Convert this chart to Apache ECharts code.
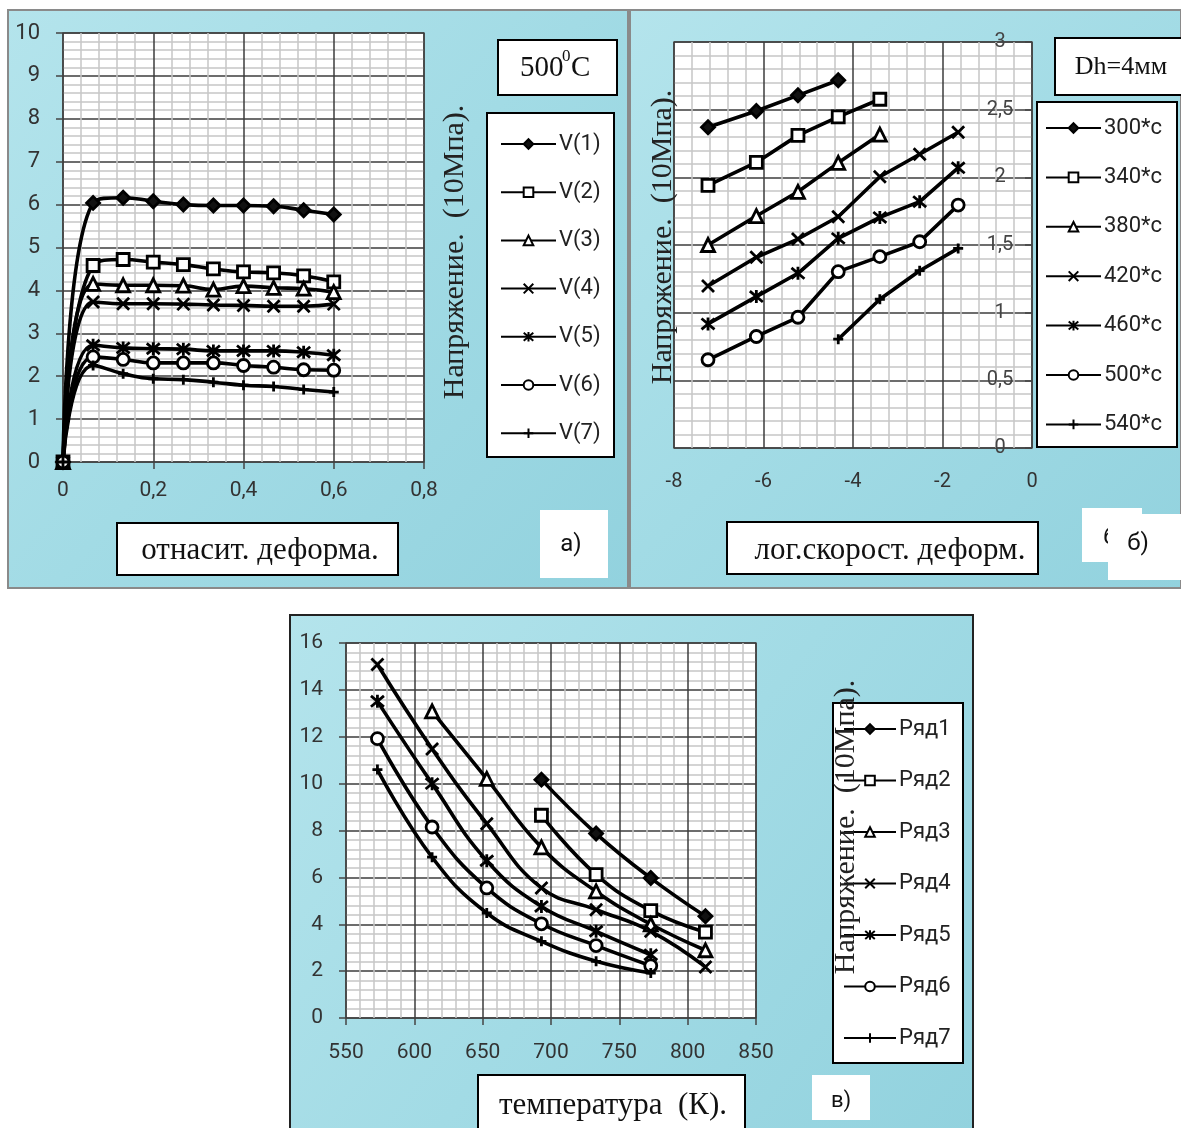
<!DOCTYPE html>
<html><head><meta charset="utf-8">
<script src="https://cdn.jsdelivr.net/npm/echarts@6/dist/echarts.min.js"></script>
<style>html,body{margin:0;padding:0;background:#fff}#c{width:1181px;height:1128px}</style>
</head><body><div id="c"></div>
<script>
// ---------- Panel а: stress vs relative strain (500 C) ----------
const strainX = [0, 0.0667, 0.1333, 0.2, 0.2667, 0.3333, 0.4, 0.4667, 0.5333, 0.6];
const V1 = [0, 6.04, 6.16, 6.08, 6.00, 5.98, 5.98, 5.96, 5.87, 5.77];
const V2 = [0, 4.58, 4.72, 4.66, 4.60, 4.50, 4.43, 4.41, 4.34, 4.20];
const V3 = [0, 4.15, 4.12, 4.12, 4.11, 4.02, 4.10, 4.06, 4.04, 3.96];
const V4 = [0, 3.73, 3.69, 3.69, 3.68, 3.66, 3.65, 3.63, 3.63, 3.68];
const V5 = [0, 2.72, 2.66, 2.64, 2.63, 2.59, 2.59, 2.59, 2.56, 2.49];
const V6 = [0, 2.45, 2.39, 2.31, 2.31, 2.31, 2.25, 2.21, 2.15, 2.14];
const V7 = [0, 2.25, 2.06, 1.94, 1.92, 1.86, 1.79, 1.76, 1.69, 1.63];
const namesA = ['V(1)', 'V(2)', 'V(3)', 'V(4)', 'V(5)', 'V(6)', 'V(7)'];

// ---------- Panel б: stress vs log strain rate (Dh=4mm) ----------
const logRate = [-7.24, -6.16, -5.23, -4.33, -3.40, -2.51, -1.65];
const T300 = [2.37, 2.49, 2.606, 2.717, null, null, null];
const T340 = [1.94, 2.11, 2.31, 2.447, 2.577, null, null];
const T380 = [1.50, 1.714, 1.893, 2.107, 2.316, null, null];
const T420 = [1.197, 1.409, 1.544, 1.709, 2.004, 2.171, 2.333];
const T460 = [0.917, 1.119, 1.291, 1.549, 1.704, 1.82, 2.07];
const T500 = [0.652, 0.824, 0.966, 1.303, 1.414, 1.524, 1.795];
const T540 = [null, null, null, 0.804, 1.099, 1.31, 1.475];
const namesB = ['300*c', '340*c', '380*c', '420*c', '460*c', '500*c', '540*c'];

// ---------- Panel в: stress vs temperature ----------
const tempK = [573, 613, 653, 693, 733, 773, 813];
const R1 = [null, null, null, 10.17, 7.87, 5.97, 4.34];
const R2 = [null, null, null, 8.65, 6.12, 4.58, 3.66];
const R3 = [null, 13.08, 10.2, 7.28, 5.40, 4.00, 2.89];
const R4 = [15.08, 11.48, 8.29, 5.55, 4.62, 3.70, 2.18];
const R5 = [13.51, 10.0, 6.71, 4.76, 3.70, 2.70, null];
const R6 = [11.92, 8.15, 5.55, 4.02, 3.09, 2.23, null];
const R7 = [10.6, 6.86, 4.48, 3.27, 2.42, 1.92, null];
const namesC = ['Ряд1', 'Ряд2', 'Ряд3', 'Ряд4', 'Ряд5', 'Ряд6', 'Ряд7'];

const SYMS = [
  {symbol: 'diamond', size: 13, fill: '#111'},
  {symbol: 'rect', size: 12, fill: '#fff'},
  {symbol: 'triangle', size: 13, fill: '#fff'},
  {symbol: 'path://M0,0L10,10M10,0L0,10', size: 12, fill: '#000'},
  {symbol: 'path://M0,0L10,10M10,0L0,10M5,-1L5,11', size: 13, fill: '#000'},
  {symbol: 'circle', size: 12, fill: '#fff'},
  {symbol: 'path://M5,0L5,10M2,5L8,5', size: 10, fill: '#000'}
];

function pairs(xs, ys) {
  const out = [];
  xs.forEach((x, i) => { if (ys[i] !== null && ys[i] !== undefined) out.push([x, ys[i]]); });
  return out;
}
function mk(name, data, k, gi, smooth) {
  const s = SYMS[k];
  return {
    name, type: 'line', xAxisIndex: gi, yAxisIndex: gi, data, smooth,
    symbol: s.symbol, symbolSize: s.size, showSymbol: true, showAllSymbol: true,
    lineStyle: {color: '#000', width: 3.6},
    itemStyle: {color: s.fill, borderColor: '#000', borderWidth: 2.8},
    emphasis: {disabled: true}, z: 3
  };
}

const seriesA = [V1, V2, V3, V4, V5, V6, V7].map((v, k) => mk(namesA[k], pairs(strainX, v), k, 0, 0.5));
const seriesB = [T300, T340, T380, T420, T460, T500, T540].map((v, k) => mk(namesB[k], pairs(logRate, v), k, 1, false));
const seriesC = [R1, R2, R3, R4, R5, R6, R7].map((v, k) => mk(namesC[k], pairs(tempK, v), k, 2, 0.45));

const fmt = v => String(Number(v.toFixed(2))).replace('.', ',');
const majorLine = {show: true, lineStyle: {color: '#3c3c3c', width: 1.5}};
const minorLine = {show: true, lineStyle: {color: '#c6c6c6', width: 1.5}};
const tickFont = {fontFamily: 'Roboto', color: '#333'};

function axis(o) {
  return Object.assign({
    type: 'value',
    axisLine: {show: false},
    axisTick: {show: true, length: 7, lineStyle: {color: '#444', width: 1.5}},
    splitLine: majorLine,
    minorTick: {show: false, splitNumber: 5},
    minorSplitLine: minorLine
  }, o);
}

const bgFill = {
  type: 'linear', x: 0, y: 0, x2: 1, y2: 1,
  colorStops: [{offset: 0, color: '#b4e4ec'}, {offset: 0.5, color: '#a2dbe5'}, {offset: 1, color: '#92d2de'}]
};
const serif = '"Liberation Serif", "DejaVu Serif", serif';
const sans = 'Roboto, "Open Sans", sans-serif';

function box(x, y, w, h, border, z) {
  return {type: 'rect', shape: {x, y, width: w, height: h}, z: z || 50,
    style: {fill: '#fff', stroke: border ? '#000' : null, lineWidth: border ? 2 : 0}};
}
function txt(x, y, text, font, size, align, z) {
  return {type: 'text', x, y, z: z || 60,
    style: {text, fontFamily: font, fontSize: size, fill: '#111', align: align || 'center', verticalAlign: 'middle'}};
}
function vtxt(x, y) {
  return {type: 'text', x, y, rotation: Math.PI / 2, z: 70,
    style: {text: 'Напряжение.  (10Мпа).', fontFamily: serif, fontSize: 30, fill: '#222', align: 'center', verticalAlign: 'middle'}};
}

const graphics = [
  // panel backgrounds
  {type: 'rect', shape: {x: 8, y: 10, width: 620, height: 578}, z: -100, style: {fill: bgFill, stroke: '#8a8a8a', lineWidth: 2}},
  {type: 'rect', shape: {x: 630, y: 10, width: 551, height: 578}, z: -100, style: {fill: bgFill, stroke: '#8a8a8a', lineWidth: 2}},
  {type: 'rect', shape: {x: 290, y: 615, width: 683, height: 520}, z: -100, style: {fill: bgFill, stroke: '#222', lineWidth: 2}},
  // legend boxes
  box(487, 113, 127, 344, true),
  box(1037, 102, 140, 345, true),
  box(833, 703, 130, 360, true),
  // panel а decorations
  box(498, 40, 119, 55, true),
  txt(520, 68, '500', serif, 29, 'left'),
  txt(562, 57, '0', serif, 17, 'left'),
  txt(571, 68, 'C', serif, 29, 'left'),
  box(117, 523, 281, 52, true),
  txt(260, 551, 'отнасит. деформа.', serif, 31),
  box(540, 510, 68, 68, false),
  txt(571, 545, 'а)', sans, 24),
  vtxt(455, 252),
  // panel б decorations
  box(1055, 38, 130, 57, true),
  txt(1121, 67, 'Dh=4мм', serif, 26),
  box(727, 522, 311, 52, true),
  txt(890, 551, 'лог.скорост. деформ.', serif, 31),
  box(1082, 508, 60, 54, false, 50),
  txt(1110, 538, 'б', sans, 24, 'center', 51),
  box(1108, 514, 73, 66, false, 52),
  txt(1138, 544, 'б)', sans, 24),
  vtxt(663, 237),
  // panel в decorations
  box(478, 1075, 267, 60, true),
  txt(613, 1106, 'температура  (К).', serif, 31),
  box(812, 1075, 58, 45, false),
  txt(841, 1101, 'в)', sans, 22),
  vtxt(846, 827)
];

function legend(names, left, top, gap, w) {
  return {
    data: names, orient: 'vertical', left, top, itemGap: gap, itemWidth: w, itemHeight: 12,
    padding: 0, selectedMode: false, z: 60,
    textStyle: {fontFamily: sans, fontSize: 22, color: '#222', lineHeight: 24, padding: [0, 0, 0, -2]}
  };
}

const option = {
  animation: false,
  backgroundColor: '#fff',
  graphic: {elements: graphics},
  grid: [
    {left: 63, top: 33, width: 361, height: 429, show: true, backgroundColor: '#fff', borderColor: '#555', borderWidth: 1.5},
    {left: 674, top: 42, width: 358, height: 406, show: true, backgroundColor: '#fff', borderColor: '#555', borderWidth: 1.5},
    {left: 346, top: 643, width: 410, height: 375, show: true, backgroundColor: '#fff', borderColor: '#555', borderWidth: 1.5}
  ],
  xAxis: [
    axis({gridIndex: 0, min: 0, max: 0.8, interval: 0.2,
      axisLabel: Object.assign({fontSize: 21, margin: 18, formatter: fmt}, tickFont)}),
    axis({gridIndex: 1, min: -8, max: 0, interval: 2, axisTick: {show: false},
      axisLabel: Object.assign({fontSize: 20, margin: 24, formatter: fmt}, tickFont)}),
    axis({gridIndex: 2, min: 550, max: 850, interval: 50,
      axisLabel: Object.assign({fontSize: 21, margin: 24}, tickFont)})
  ],
  yAxis: [
    axis({gridIndex: 0, min: 0, max: 10, interval: 1,
      axisLabel: Object.assign({fontSize: 22, margin: 23, formatter: fmt}, tickFont)}),
    axis({gridIndex: 1, min: 0, max: 3, interval: 0.5, position: 'right',
      axisTick: {show: true, inside: true, length: 7, lineStyle: {color: '#444', width: 1.5}},
      axisLabel: {inside: true, align: 'center', margin: 32, fontSize: 20, fontFamily: 'Roboto', color: '#444', formatter: fmt}}),
    axis({gridIndex: 2, min: 0, max: 16, interval: 2,
      axisLabel: Object.assign({fontSize: 21, margin: 23}, tickFont)})
  ],
  legend: [
    legend(namesA, 500, 132, 24.2, 55),
    legend(namesB, 1045, 116, 25.4, 55),
    legend(namesC, 843, 717, 27.5, 52)
  ],
  series: [].concat(seriesA, seriesB, seriesC)
};

const chart = echarts.init(document.getElementById('c'), null, {renderer: 'canvas'});
chart.setOption(option);
</script>
</body></html>
